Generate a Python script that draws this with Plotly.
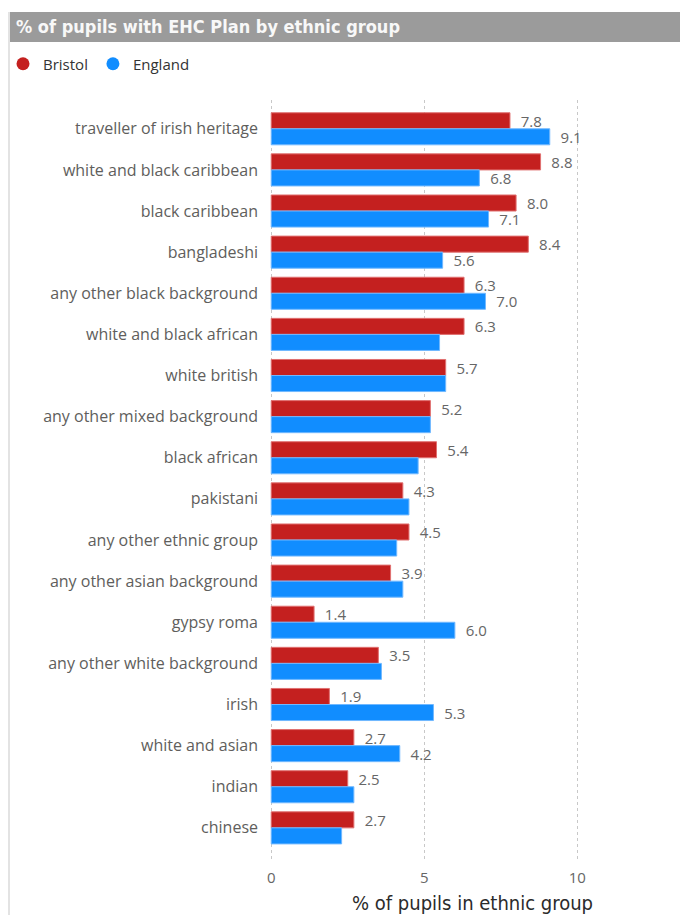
import plotly.graph_objects as go

categories = [
    "traveller of irish heritage", "white and black caribbean", "black caribbean",
    "bangladeshi", "any other black background", "white and black african",
    "white british", "any other mixed background", "black african", "pakistani",
    "any other ethnic group", "any other asian background", "gypsy roma",
    "any other white background", "irish", "white and asian", "indian", "chinese",
]
bristol = [7.8, 8.8, 8.0, 8.4, 6.3, 6.3, 5.7, 5.2, 5.4, 4.3, 4.5, 3.9, 1.4, 3.5, 1.9, 2.7, 2.5, 2.7]
england = [9.1, 6.8, 7.1, 5.6, 7.0, 5.5, 5.7, 5.2, 4.8, 4.5, 4.1, 4.3, 6.0, 3.6, 5.3, 4.2, 2.7, 2.3]
# which England values carry a visible data label in the original
england_labelled = [True, True, True, True, True, False, False, False, False, False,
                    False, False, True, False, True, True, False, False]
x_ticks = [0, 5, 10]

RED = "#C4201F"
BLUE = "#118DFF"
FONT = "Open Sans, Noto Sans, sans-serif"
COND = "DejaVu Sans Condensed, Roboto, sans-serif"

OFF = 8  # page body margin
W, H = 688 - OFF, 915 - OFF
L = 270 - OFF
R = W - (675 - OFF)
T = 100 - OFF
B = H - (862 - OFF)
pw, ph = W - L - R, H - T - B

def px_x(p):  # p = page pixel in the reference
    return (p - OFF - L) / pw

def px_y(p):
    return (H - B - (p - OFF)) / ph

fig = go.Figure()
fig.add_trace(go.Bar(
    y=categories, x=bristol, orientation="h", name="Bristol",
    marker=dict(color=RED, line=dict(color="#E07070", width=1)),
    text=["  " + f"{v:.1f}" for v in bristol], textposition="outside",
    textfont=dict(family=FONT, size=15, color="#666666"), constraintext="none",
    cliponaxis=False, showlegend=False,
))
fig.add_trace(go.Bar(
    y=categories, x=england, orientation="h", name="England",
    marker=dict(color=BLUE, line=dict(color="#70B8FF", width=1)),
    text=["  " + f"{v:.1f}" if s else "" for v, s in zip(england, england_labelled)],
    textposition="outside",
    textfont=dict(family=FONT, size=15, color="#666666"), constraintext="none",
    cliponaxis=False, showlegend=False,
))
# legend entries with circle markers
for name, col in [("Bristol", RED), ("England", BLUE)]:
    fig.add_trace(go.Scatter(x=[None], y=[None], mode="markers", name=name,
                             marker=dict(symbol="circle", size=13, color=col)))

fig.update_layout(
    width=W, height=H,
    margin=dict(l=L, r=R, t=T, b=B, autoexpand=False),
    paper_bgcolor="white", plot_bgcolor="white",
    barmode="group", bargap=0.22, bargroupgap=0,
    font=dict(family=FONT, color="#605E5C"),
    title=dict(text="<b>% of pupils with EHC Plan by ethnic group</b>",
               x=(16 - OFF) / W, xanchor="left", y=1 - (27 - OFF) / H, yanchor="middle",
               font=dict(family=COND, size=18, color="#F8F8F8")),
    legend=dict(orientation="h", x=px_x(3), y=px_y(64), xanchor="left", yanchor="middle",
                font=dict(family=FONT, size=15, color="#333333"),
                itemwidth=30, traceorder="normal", bgcolor="rgba(0,0,0,0)"),
    xaxis=dict(range=[-0.04, (675 - 270) / 30.7], tickvals=x_ticks,
               showgrid=True, gridcolor="#C8C8C8", griddash="dot", gridwidth=1,
               zeroline=False, showline=False, ticklabelstandoff=5,
               tickfont=dict(family=FONT, size=15, color="#666666"),
               title=dict(text="% of pupils in ethnic group", standoff=10,
                          font=dict(family=COND, size=20, color="#2B2B2B"))),
    yaxis=dict(categoryorder="array", categoryarray=categories,
               range=[17.83, -0.7], showgrid=False, zeroline=False,
               tickfont=dict(family=FONT, size=16, color="#605E5C"),
               ticklabelstandoff=11),
    shapes=[
        dict(type="rect", xref="paper", yref="paper", x0=px_x(10), x1=px_x(700),
             y0=px_y(42), y1=px_y(12), fillcolor="#9B9B9B", line=dict(width=0), layer="below"),
        dict(type="line", xref="paper", yref="paper", x0=px_x(9), x1=px_x(9),
             y0=px_y(12), y1=px_y(930), line=dict(color="#E3E3E3", width=2)),
    ],
)

fig.write_html("out.html")
